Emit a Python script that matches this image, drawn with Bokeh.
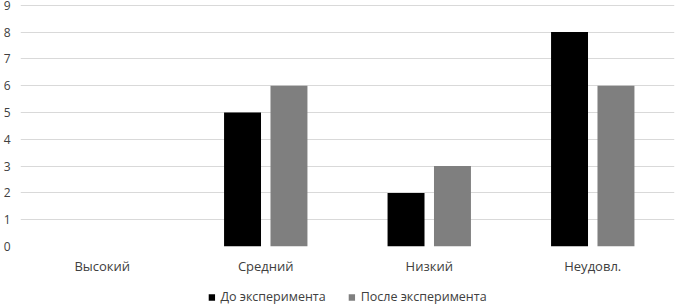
from bokeh.plotting import figure
from bokeh.layouts import column
from bokeh.models import FactorRange, Range1d, Legend, LegendItem, ColumnDataSource, SingleIntervalTicker
from bokeh.transform import dodge
from bokeh.embed import file_html
from bokeh.resources import INLINE

categories = ["Высокий", "Средний", "Низкий", "Неудовл."]
before = [0, 5, 2, 8]
after = [0, 6, 3, 6]
series_names = ["До эксперимента", "После эксперимента"]
series_colors = ["#000000", "#7f7f7f"]

src = ColumnDataSource(dict(cat=categories, before=before, after=after))

FONT = "Open Sans"
TXT = "#404040"

p = figure(width=675, height=280, frame_width=654, frame_height=246,
           output_backend="svg", toolbar_location=None,
           x_range=FactorRange(*categories, range_padding=0),
           y_range=Range1d(0, 9.175),
           min_border_left=20, min_border_right=1, min_border_top=0, min_border_bottom=34)
p.outline_line_color = None
p.background_fill_color = "white"
p.border_fill_color = "white"

p.vbar(x=dodge("cat", -0.142, range=p.x_range), top="before", width=0.226,
       source=src, fill_color=series_colors[0], line_color=None)
p.vbar(x=dodge("cat", 0.142, range=p.x_range), top="after", width=0.226,
       source=src, fill_color=series_colors[1], line_color=None)

p.xgrid.grid_line_color = None
p.ygrid.grid_line_color = "#d9d9d9"
p.ygrid.grid_line_width = 1

p.yaxis.ticker = SingleIntervalTicker(interval=1)
p.yaxis.axis_line_color = None
p.yaxis.major_tick_line_color = None
p.yaxis.minor_tick_line_color = None
p.yaxis.major_tick_in = 0
p.yaxis.major_tick_out = 0
p.yaxis.major_label_standoff = 6
p.yaxis.major_label_text_font = FONT
p.yaxis.major_label_text_font_size = "12px"
p.yaxis.major_label_text_color = TXT

p.xaxis.axis_line_color = None
p.xaxis.major_tick_line_color = None
p.xaxis.minor_tick_line_color = None
p.xaxis.major_tick_in = 0
p.xaxis.major_tick_out = 0
p.xaxis.major_label_standoff = 10
p.xaxis.major_label_text_font = FONT
p.xaxis.major_label_text_font_size = "13px"
p.xaxis.major_label_text_color = TXT

# legend strip: same bars, drawn in a range where they are out of view,
# used only as legend glyph sources
q = figure(width=675, height=25, output_backend="svg", toolbar_location=None,
           x_range=FactorRange(*categories, range_padding=0), y_range=Range1d(100, 101),
           x_axis_type=None, y_axis_type=None,
           min_border_left=20, min_border_right=1, min_border_top=0, min_border_bottom=0)
q.outline_line_color = None
q.xgrid.grid_line_color = None
q.ygrid.grid_line_color = None
q.border_fill_color = "white"
q.background_fill_color = "white"
l1 = q.vbar(x=dodge("cat", -0.142, range=q.x_range), top="before", width=0.226,
            source=src, fill_color=series_colors[0], line_color=None)
l2 = q.vbar(x=dodge("cat", 0.142, range=q.x_range), top="after", width=0.226,
            source=src, fill_color=series_colors[1], line_color=None)

legend = Legend(items=[LegendItem(label=series_names[0], renderers=[l1]),
                       LegendItem(label=series_names[1], renderers=[l2])],
                orientation="horizontal", location="bottom_center",
                border_line_color=None, background_fill_alpha=0,
                label_text_font=FONT, label_text_font_size="12.5px", label_text_color=TXT,
                glyph_width=8, glyph_height=8, label_standoff=5, spacing=22,
                padding=0, margin=0)
q.add_layout(legend, "center")

open("out.html", "w").write(file_html(column(p, q, spacing=0), INLINE))
